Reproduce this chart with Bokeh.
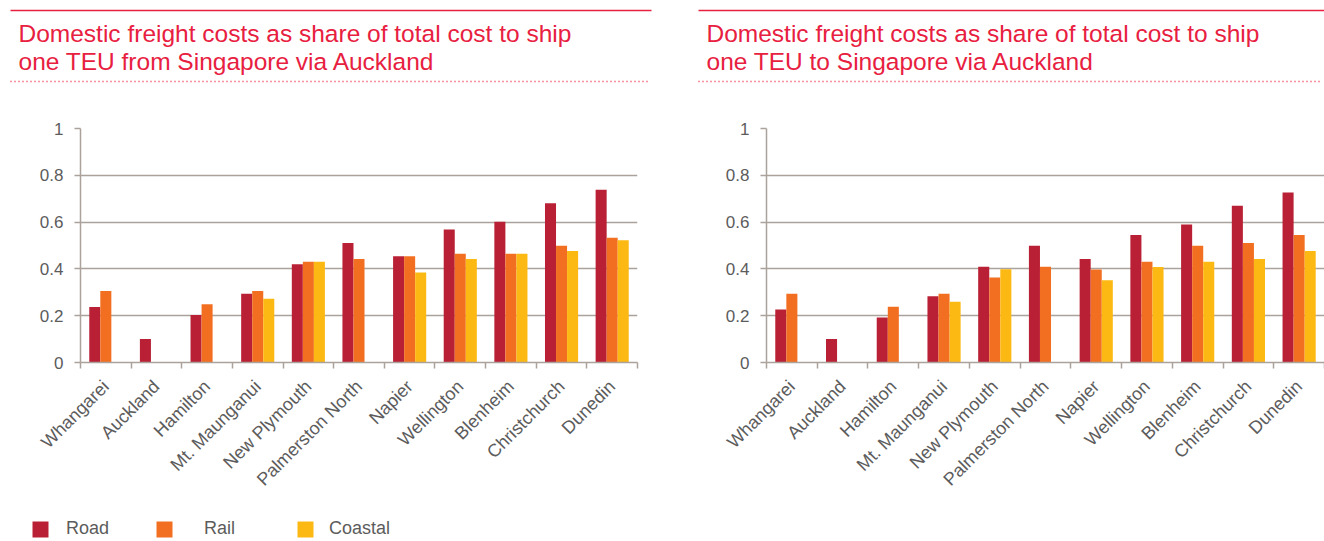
import math
from bokeh.plotting import figure
from bokeh.models import Range1d, FixedTicker, ColumnDataSource, Legend, LegendItem
from bokeh.transform import dodge
from bokeh.layouts import row, column
from bokeh.core.properties import value
from bokeh.embed import file_html
from bokeh.resources import INLINE

nan = float("nan")

categories = ["Whangarei", "Auckland", "Hamilton", "Mt. Maunganui", "New Plymouth",
              "Palmerston North", "Napier", "Wellington", "Blenheim", "Christchurch", "Dunedin"]

series_names = ["Road", "Rail", "Coastal"]

from_road = [0.237, 0.100, 0.203, 0.294, 0.420, 0.511, 0.454, 0.568, 0.602, 0.681, 0.738]
from_rail = [0.306, nan, 0.249, 0.306, 0.431, 0.442, 0.454, 0.465, 0.465, 0.499, 0.533]
from_coastal = [nan, nan, nan, 0.272, 0.431, nan, 0.385, 0.442, 0.465, 0.477, 0.522]

to_road = [0.226, 0.100, 0.192, 0.283, 0.409, 0.499, 0.442, 0.545, 0.590, 0.670, 0.727]
to_rail = [0.294, nan, 0.238, 0.294, 0.363, 0.409, 0.397, 0.431, 0.499, 0.511, 0.545]
to_coastal = [nan, nan, nan, 0.260, 0.398, nan, 0.351, 0.408, 0.431, 0.442, 0.477]

y_ticks = [0, 0.2, 0.4, 0.6, 0.8, 1]
y_tick_labels = ["0", "0.2", "0.4", "0.6", "0.8", "1"]

left_title = ["Domestic freight costs as share of total cost to ship",
              "one TEU  from Singapore via Auckland"]
right_title = ["Domestic freight costs as share of total cost to ship",
               "one TEU to Singapore via Auckland"]

COLORS = ["#BA2035", "#F26F22", "#FDB913"]
RED = "#E8203F"
GRID = "#ABA29B"
TEXT = "#5C5C5C"
FONT = "Liberation Sans"

BAR_W = 0.218
HEAD_H = 95
LEG_H = 36


def header(width, lines, x_text, x_line0, x_line1):
    h = figure(width=width, height=HEAD_H, x_range=Range1d(0, width), y_range=Range1d(HEAD_H, 0),
               toolbar_location=None, output_backend="svg", min_border=0, frame_align=False)
    h.axis.visible = False
    h.grid.visible = False
    h.outline_line_color = None
    h.segment(x0=[x_line0], y0=[10], x1=[x_line1], y1=[10], line_color=RED, line_width=1.5)
    h.segment(x0=[x_line0], y0=[81], x1=[x_line1 - 2], y1=[81], line_color=RED, line_width=1.3,
              line_dash="1 3")
    h.text(x=[x_text, x_text], y=[33, 61], text=lines, text_font=value(FONT),
           text_font_size="24.5px", text_color=RED, text_baseline="middle", text_align="left")
    return h


def chart(width, height, road, rail, coastal, border_left, border_right):
    p = figure(width=width, height=height, x_range=Range1d(-0.5, len(categories) - 0.5),
               y_range=Range1d(0, 1), toolbar_location=None, output_backend="svg",
               min_border_left=border_left, min_border_right=border_right,
               min_border_top=33, min_border_bottom=height - 33 - 234, frame_align=False)
    p.outline_line_color = None
    src = ColumnDataSource(dict(x=list(range(len(categories))), road=road, rail=rail, coastal=coastal))
    for i, (key, col) in enumerate(zip(["road", "rail", "coastal"], COLORS)):
        p.vbar(x=dodge("x", (i - 1) * BAR_W, range=p.x_range), top=key, width=BAR_W,
               bottom=0, source=src, fill_color=col, line_color=None)

    xa = p.xaxis[0]
    xa.ticker = FixedTicker(ticks=list(range(len(categories))),
                            minor_ticks=[i - 0.5 for i in range(len(categories) + 1)])
    xa.major_label_overrides = {i: c for i, c in enumerate(categories)}
    xa.major_label_orientation = math.pi / 4
    xa.major_tick_line_color = None
    xa.major_tick_out = 6
    xa.major_tick_in = 0
    xa.minor_tick_line_color = GRID
    xa.minor_tick_line_width = 1.5
    xa.minor_tick_out = 6
    xa.minor_tick_in = 0
    xa.axis_line_color = GRID
    xa.axis_line_width = 1.5
    xa.major_label_text_font = FONT
    xa.major_label_text_font_size = "18px"
    xa.major_label_text_color = TEXT
    xa.major_label_standoff = 15

    ya = p.yaxis[0]
    ya.ticker = FixedTicker(ticks=y_ticks)
    ya.major_label_overrides = {t: l for t, l in zip(y_ticks, y_tick_labels)}
    ya.major_tick_line_color = GRID
    ya.major_tick_line_width = 1.5
    ya.major_tick_out = 6
    ya.major_tick_in = 0
    ya.minor_tick_line_color = None
    ya.axis_line_color = GRID
    ya.axis_line_width = 1.5
    ya.major_label_text_font = FONT
    ya.major_label_text_font_size = "17px"
    ya.major_label_text_color = TEXT
    ya.major_label_standoff = 11

    p.xgrid.visible = False
    p.ygrid.grid_line_color = GRID
    p.ygrid.grid_line_width = 1.5
    p.ygrid.ticker = FixedTicker(ticks=y_ticks)
    return p


def legend_fig(width):
    f = figure(width=width, height=LEG_H, x_range=Range1d(0, 1), y_range=Range1d(0, 1),
               toolbar_location=None, output_backend="svg", min_border=0, frame_align=False)
    f.axis.visible = False
    f.grid.visible = False
    f.outline_line_color = None
    specs = [(30, 16), (154, 30), (295, 14)]
    for name, col, (lx, st) in zip(series_names, COLORS, specs):
        # placeholder renderer (nothing drawn) so that the legend has a swatch
        r = f.vbar(x=[nan], top=[nan], width=0.1, fill_color=col, line_color=None)
        lg = Legend(items=[LegendItem(label=name, renderers=[r])], location=(lx, 2),
                    orientation="horizontal", padding=0, margin=0, spacing=0,
                    glyph_width=20, glyph_height=20, label_height=20, label_standoff=st,
                    label_text_font=FONT, label_text_font_size="18px",
                    label_text_color=TEXT, label_text_baseline="middle",
                    border_line_color=None, background_fill_alpha=0)
        f.add_layout(lg, "center")
    return f


W1, W2 = 695, 629
h1 = header(W1, left_title, 18, 10, 651)
c1 = chart(W1, 541 - HEAD_H - LEG_H, from_road, from_rail, from_coastal, 80, 58)
l1 = legend_fig(W1)
h2 = header(W2, right_title, 11, 3, W2)
c2 = chart(W2, 541 - HEAD_H - LEG_H, to_road, to_rail, to_coastal, 71, 0)

layout = row(column(h1, c1, l1), column(h2, c2))

open("out.html", "w").write(file_html(layout, INLINE))
